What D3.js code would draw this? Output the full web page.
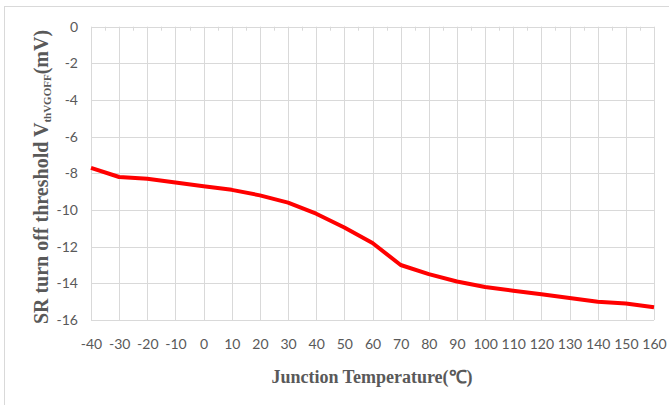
<!DOCTYPE html>
<html>
<head>
<meta charset="utf-8"/>
<title>SR turn off threshold</title>
<style>
  * { margin: 0; padding: 0; }
  body { background: #fff; }
  svg { display: block; }
  .tick text { font-family: Lato, "Open Sans", sans-serif; font-size: 14px; fill: #595959; }
  .grid line { stroke: #d9d9d9; stroke-width: 1; }
  .title { font-family: "Liberation Serif", "Times New Roman", serif; font-weight: bold; fill: #595959; }
</style>
<script src="https://d3js.org/d3.v7.min.js"></script>
</head>
<body>
<svg id="chart" width="669" height="405"></svg>
<script>
// junction temperature (C)
const temps = [-40, -30, -20, -10, 0, 10, 20, 30, 40, 50, 60, 70, 80, 90, 100, 110, 120, 130, 140, 150, 160];
// threshold (mV)
const vth = [-7.7, -8.2, -8.3, -8.5, -8.7, -8.9, -9.2, -9.6, -10.2, -10.95, -11.8, -13.0, -13.5, -13.9, -14.2, -14.4, -14.6, -14.8, -15.0, -15.1, -15.3];
const yTicks = [0, -2, -4, -6, -8, -10, -12, -14, -16];

const svg = d3.select('#chart');

// outer chart border
svg.append('rect')
  .attr('x', 4.5).attr('y', 6.5)
  .attr('width', 680).attr('height', 420)
  .attr('fill', 'none').attr('stroke', '#d9d9d9');

const x = d3.scaleLinear().domain([-40, 160]).range([91, 654]);
const y = d3.scaleLinear().domain([-16, 0]).range([320, 26.7]);

// horizontal grid
svg.append('g').attr('class', 'grid')
  .selectAll('line').data(yTicks.filter(d => d !== 0)).enter()
  .append('line')
  .attr('x1', x(-40)).attr('x2', x(160))
  .attr('y1', d => Math.round(y(d)) + 0.5).attr('y2', d => Math.round(y(d)) + 0.5);

// vertical grid
svg.append('g').attr('class', 'grid')
  .selectAll('line').data(temps).enter()
  .append('line')
  .attr('x1', d => Math.round(x(d)) + 0.5).attr('x2', d => Math.round(x(d)) + 0.5)
  .attr('y1', y(0)).attr('y2', y(-16));

// category axis sits at y = 0 (top), small ticks between categories
const mids = temps.slice(1).map((t, i) => (t + temps[i]) / 2);
svg.append('g').attr('class', 'grid')
  .selectAll('line').data(mids).enter()
  .append('line')
  .attr('x1', d => Math.round(x(d)) + 0.5).attr('x2', d => Math.round(x(d)) + 0.5)
  .attr('y1', y(0)).attr('y2', y(0) + 4);
svg.append('line')
  .attr('x1', x(-40)).attr('x2', x(160))
  .attr('y1', Math.round(y(0)) + 0.5).attr('y2', Math.round(y(0)) + 0.5)
  .attr('stroke', '#d9d9d9');

// y axis labels
const yAxis = svg.append('g')
  .attr('transform', 'translate(83,0)')
  .call(d3.axisLeft(y).tickValues(yTicks).tickFormat(d => String(d)).tickSize(0).tickPadding(5));
yAxis.select('.domain').remove();

// x axis labels (low position)
const xAxis = svg.append('g')
  .attr('transform', 'translate(0,339)')
  .call(d3.axisBottom(x).tickValues(temps).tickFormat(d => String(d)).tickSize(0).tickPadding(0));
xAxis.select('.domain').remove();

// data line
const line = d3.line()
  .x((d, i) => x(temps[i]))
  .y(d => y(d));

svg.append('path')
  .datum(vth)
  .attr('d', line)
  .attr('fill', 'none')
  .attr('stroke', '#ff0000')
  .attr('stroke-width', 4)
  .attr('stroke-linejoin', 'round');

// axis titles
svg.append('text')
  .attr('class', 'title')
  .attr('x', 372).attr('y', 383)
  .attr('text-anchor', 'middle')
  .style('font-size', '18px')
  .text('Junction Temperature(℃)');

const yt = svg.append('text')
  .attr('class', 'title')
  .attr('transform', 'translate(48,177) rotate(-90)')
  .attr('text-anchor', 'middle')
  .style('font-size', '20px');
yt.append('tspan').text('SR turn off threshold V');
yt.append('tspan').attr('dy', 3).style('font-size', '11px').text('thVGOFF');
yt.append('tspan').attr('dy', -3).text('(mV)');
</script>
</body>
</html>
